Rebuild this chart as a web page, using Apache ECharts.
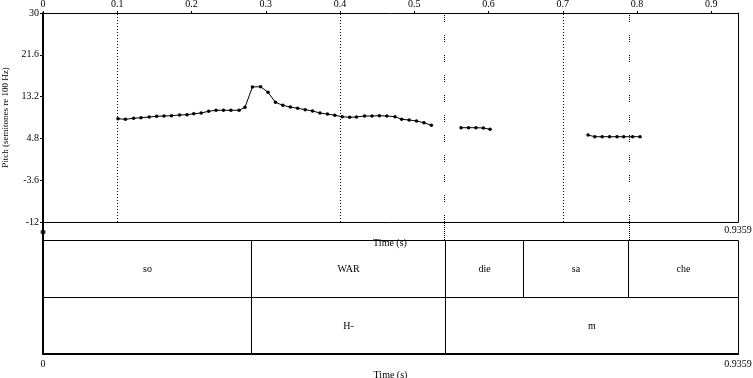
<!DOCTYPE html>
<html>
<head>
<meta charset="utf-8">
<script src="https://cdn.jsdelivr.net/npm/echarts@6/dist/echarts.min.js"></script>
<style>
  html, body { margin: 0; padding: 0; background: #fff; }
  #chart { width: 753px; height: 378px; }
</style>
</head>
<body>
<div id="chart"></div>
<script>
// duración total (s)
const timeMax = 0.9359;
const timeTicks = [0, 0.1, 0.2, 0.3, 0.4, 0.5, 0.6, 0.7, 0.8, 0.9];
const pitchTicks = [-12, -3.6, 4.8, 13.2, 21.6, 30];

// pitch (semitonos re 100 Hz), tres tramos con voz
const pitchSeg1 = [
    [0.101, 8.76], [0.111, 8.64], [0.122, 8.84], [0.132, 8.96], [0.143, 9.10],
    [0.153, 9.24], [0.163, 9.30], [0.173, 9.36], [0.184, 9.50], [0.194, 9.56],
    [0.203, 9.76], [0.213, 9.90], [0.223, 10.25], [0.233, 10.45], [0.243, 10.45],
    [0.253, 10.45], [0.264, 10.45], [0.272, 11.05], [0.282, 15.13], [0.293, 15.19],
    [0.303, 14.06], [0.313, 12.05], [0.323, 11.45], [0.333, 11.11], [0.343, 10.85],
    [0.353, 10.57], [0.363, 10.31], [0.373, 9.90], [0.383, 9.70], [0.393, 9.44],
    [0.403, 9.16], [0.413, 9.04], [0.422, 9.10], [0.433, 9.30], [0.443, 9.30],
    [0.453, 9.36], [0.463, 9.30], [0.474, 9.16], [0.483, 8.64], [0.493, 8.50],
    [0.503, 8.30], [0.513, 7.95], [0.523, 7.43]
];
const pitchSeg2 = [
    [0.563, 6.95], [0.573, 6.95], [0.583, 6.95], [0.593, 6.89], [0.602, 6.63]
];
const pitchSeg3 = [
    [0.734, 5.48], [0.743, 5.14], [0.753, 5.14], [0.763, 5.14], [0.773, 5.14],
    [0.782, 5.14], [0.794, 5.14], [0.804, 5.14]
];

// líneas verticales
const dottedTimes = [0.1, 0.4, 0.7];
const dashedTimes = [0.5413, 0.7878];

// tiers (TextGrid)
const tier1Bounds = [0, 0.280, 0.5413, 0.6464, 0.7878, 0.9359];
const tier1Labels = ['so', 'WAR', 'die', 'sa', 'che'];
const tier2Bounds = [0, 0.280, 0.5413, 0.9359];
const tier2Labels = ['', 'H-', 'm'];

const FONT = 'Liberation Serif';
const txt = { color: '#000', fontFamily: FONT, fontSize: 10 };

// construir intervalos: [inicio, fin, fila]
const tierData = [];
const tierText = [];
tier1Labels.forEach((lab, i) => { tierData.push([tier1Bounds[i], tier1Bounds[i + 1], 1]); tierText.push(lab); });
tier2Labels.forEach((lab, i) => { tierData.push([tier2Bounds[i], tier2Bounds[i + 1], 0]); tierText.push(lab); });

const chart = echarts.init(document.getElementById('chart'));

const fmtTime = v => (v === 0 ? '0' : String(Math.round(v * 10000) / 10000));
const crisp = v => Math.round(v) + 0.5;

function pitchSeries(data, withMarks) {
    const s = {
        type: 'line',
        xAxisIndex: 0,
        yAxisIndex: 0,
        data: data,
        symbol: 'circle',
        symbolSize: 3.5,
        showSymbol: true,
        itemStyle: { color: '#000' },
        lineStyle: { color: '#000', width: 1 },
        animation: false,
        silent: true
    };
    if (withMarks) {
        s.markLine = {
            silent: true,
            symbol: 'none',
            label: { show: false },
            animation: false,
            data: dottedTimes.map(t => ({ xAxis: t, lineStyle: { type: [1, 2], color: '#000', width: 1 } }))
                .concat(dashedTimes.map(t => ({ xAxis: t, lineStyle: { type: [1, 1, 1, 1, 1, 1, 1, 13], color: '#000', width: 1 } })))
        };
    }
    return s;
}

const gridBase = { left: 43, right: 15, outerBoundsMode: 'none', containLabel: false };

const option = {
    backgroundColor: '#fff',
    animation: false,
    grid: [
        { ...gridBase, top: 13, height: 209 },   // pitch
        { ...gridBase, top: 222, height: 18 },   // hueco
        { ...gridBase, top: 240, height: 114 }   // tiers
    ],
    xAxis: [
        {
            gridIndex: 0, type: 'value', position: 'top', min: 0, max: timeMax,
            axisLine: { show: true, onZero: false, lineStyle: { color: '#000', width: 1 } },
            axisTick: { show: true, length: 2, customValues: timeTicks, lineStyle: { color: '#000' } },
            axisLabel: { customValues: timeTicks, formatter: fmtTime, margin: 4, ...txt },
            splitLine: { show: false }
        },
        {
            gridIndex: 0, type: 'value', position: 'bottom', min: 0, max: timeMax,
            axisLine: { show: true, onZero: false, lineStyle: { color: '#000', width: 1 } },
            axisTick: { show: false }, axisLabel: { show: false }, splitLine: { show: false }
        },
        {
            gridIndex: 1, type: 'value', position: 'top', min: 0, max: timeMax,
            axisLine: { show: false, onZero: false },
            axisTick: { show: false },
            axisLabel: { inside: true, customValues: [timeMax], formatter: fmtTime, margin: 3, ...txt },
            splitLine: { show: false }
        },
        {
            gridIndex: 2, type: 'value', position: 'bottom', min: 0, max: timeMax,
            axisLine: { show: true, onZero: false, lineStyle: { color: '#000', width: 2 } },
            axisTick: { show: false },
            axisLabel: { customValues: [0, timeMax], formatter: fmtTime, margin: 5, ...txt },
            splitLine: { show: false },
            name: 'Time (s)', nameLocation: 'middle', nameGap: 14, nameTextStyle: txt
        }
    ],
    yAxis: [
        {
            gridIndex: 0, type: 'value', min: -12, max: 30,
            axisLine: { show: true, onZero: false, lineStyle: { color: '#000', width: 2 } },
            axisTick: { show: true, length: 3, customValues: pitchTicks, lineStyle: { color: '#000' } },
            axisLabel: { customValues: pitchTicks, margin: 4, ...txt },
            splitLine: { show: false },
            name: 'Pitch (semitones re 100 Hz)', nameLocation: 'middle', nameGap: 28,
            nameTextStyle: { color: '#000', fontFamily: FONT, fontSize: 9 }
        },
        {
            gridIndex: 0, type: 'value', position: 'right', min: -12, max: 30,
            axisLine: { show: true, onZero: false, lineStyle: { color: '#000', width: 1 } },
            axisTick: { show: false }, axisLabel: { show: false }, splitLine: { show: false }
        },
        {
            gridIndex: 1, type: 'value', min: 0, max: 1,
            axisLine: { show: true, onZero: false, lineStyle: { color: '#000', width: 2 } },
            axisTick: { show: false }, axisLabel: { show: false }, splitLine: { show: false }
        },
        {
            gridIndex: 2, type: 'value', min: 0, max: 2,
            axisLine: { show: true, onZero: false, lineStyle: { color: '#000', width: 2 } },
            axisTick: { show: false }, axisLabel: { show: false }, splitLine: { show: false }
        }
    ],
    graphic: [{
        type: 'text', x: 390, y: 243,
        style: { text: 'Time (s)', align: 'center', verticalAlign: 'middle', fill: '#000', font: '10px "' + FONT + '"' }
    }],
    series: [
        pitchSeries(pitchSeg1, true),
        pitchSeries(pitchSeg2, false),
        pitchSeries(pitchSeg3, false),
        {
            // punteado en el hueco entre pitch y tiers
            type: 'line', xAxisIndex: 2, yAxisIndex: 2, data: [], silent: true,
            markLine: {
                silent: true, symbol: 'none', label: { show: false }, animation: false,
                lineStyle: { type: [1, 1], color: '#000', width: 1 },
                data: dashedTimes.map(t => ({ xAxis: t }))
            }
        },
        {
            type: 'scatter', xAxisIndex: 2, yAxisIndex: 2, clip: false, silent: true,
            data: [[0, 0.45]], symbolSize: 5, itemStyle: { color: '#000' }
        },
        {
            type: 'custom', xAxisIndex: 3, yAxisIndex: 3, silent: true,
            data: tierData,
            renderItem: function (params, api) {
                const p0 = api.coord([api.value(0), api.value(2) + 1]);
                const p1 = api.coord([api.value(1), api.value(2)]);
                const x0 = crisp(p0[0]), y0 = crisp(p0[1]);
                const x1 = crisp(p1[0]), y1 = crisp(p1[1]);
                return {
                    type: 'group',
                    children: [{
                        type: 'rect',
                        shape: { x: x0, y: y0, width: x1 - x0, height: y1 - y0 },
                        style: { fill: 'none', stroke: '#000', lineWidth: 1 }
                    }, {
                        type: 'text',
                        x: (x0 + x1) / 2, y: (y0 + y1) / 2,
                        style: {
                            text: tierText[params.dataIndex], align: 'center', verticalAlign: 'middle',
                            fill: '#000', font: '10px "' + FONT + '"'
                        }
                    }]
                };
            }
        }
    ]
};

chart.setOption(option);
</script>
</body>
</html>
